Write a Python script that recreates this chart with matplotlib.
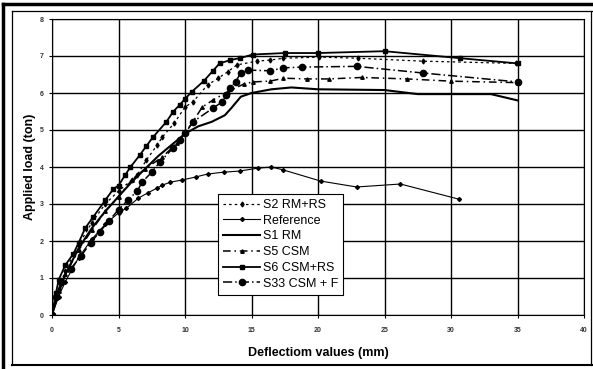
import matplotlib
matplotlib.use('Agg')
import matplotlib.pyplot as plt
from matplotlib.lines import Line2D

# load-deflection data
s2_x = [0, 0.5, 1, 2, 3, 4, 5, 6, 6.4, 7.1, 7.9, 8.3, 9.2, 10, 10.6, 11.7, 12.5, 13.2, 13.9, 15.4, 16.4, 17.4, 20.1, 23, 27.9, 34.9]
s2_y = [0, 0.7, 1.2, 1.9, 2.5, 3.0, 3.35, 3.65, 3.78, 4.19, 4.59, 4.81, 5.19, 5.62, 5.76, 6.22, 6.4, 6.57, 6.76, 6.86, 6.89, 6.94, 6.97, 6.94, 6.86, 6.8]

ref_x = [0, 0.5, 1, 2, 3, 4, 5, 5.6, 6.5, 7.2, 7.9, 8.3, 8.9, 9.8, 10.8, 11.7, 12.9, 14.1, 15.5, 16.5, 17.4, 20.2, 22.9, 26.2, 30.6]
ref_y = [0, 0.5, 0.9, 1.55, 2.05, 2.45, 2.76, 2.89, 3.16, 3.3, 3.43, 3.51, 3.59, 3.65, 3.73, 3.81, 3.86, 3.89, 3.97, 4.0, 3.92, 3.62, 3.46, 3.54, 3.13]

s1_x = [0, 0.5, 1, 2, 3, 4, 5, 6, 7, 8, 9, 10, 11, 12, 13, 13.5, 14.2, 15, 16.5, 18, 20, 25, 27.5, 33, 35]
s1_y = [0, 0.6, 1.1, 1.8, 2.35, 2.8, 3.2, 3.6, 3.95, 4.3, 4.6, 4.9, 5.1, 5.22, 5.4, 5.6, 5.9, 6.0, 6.1, 6.15, 6.1, 6.08, 5.97, 5.97, 5.8]

s5_x = [0, 0.5, 1, 2, 3, 4, 5, 6, 7, 8.3, 9.4, 10.1, 11.3, 12.1, 13.2, 14.4, 15.1, 16.4, 17.4, 19.2, 20.8, 23.3, 26.7, 30, 35]
s5_y = [0, 0.65, 1.1, 1.75, 2.3, 2.8, 3.2, 3.65, 3.95, 4.27, 4.65, 4.95, 5.62, 5.81, 6.03, 6.24, 6.3, 6.32, 6.4, 6.38, 6.38, 6.42, 6.38, 6.32, 6.28]

s6_x = [0, 0.3, 0.5, 1.0, 1.6, 2.0, 2.5, 3.1, 4.0, 4.6, 5.0, 5.5, 5.9, 6.6, 7.1, 7.6, 8.6, 9.1, 9.6, 10.0, 10.5, 11.4, 12.1, 12.6, 13.4, 14.1, 15.1, 17.5, 20, 25, 30.7, 35]
s6_y = [0, 0.6, 0.95, 1.35, 1.65, 1.95, 2.35, 2.65, 3.1, 3.4, 3.5, 3.78, 4.0, 4.32, 4.57, 4.81, 5.22, 5.49, 5.68, 5.84, 6.03, 6.32, 6.6, 6.8, 6.89, 6.94, 7.04, 7.08, 7.08, 7.13, 6.94, 6.8]

s33_x = [0, 0.3, 0.7, 1.4, 2.2, 2.9, 3.6, 4.3, 5, 5.7, 6.4, 6.8, 7.5, 8.1, 9.1, 9.6, 10, 10.6, 12.1, 12.8, 13.1, 13.4, 13.8, 14.2, 14.7, 16.4, 17.4, 18.8, 22.9, 27.9, 35]
s33_y = [0, 0.5, 0.9, 1.25, 1.6, 1.95, 2.25, 2.55, 2.85, 3.1, 3.35, 3.6, 3.86, 4.13, 4.51, 4.73, 4.92, 5.22, 5.59, 5.76, 5.95, 6.14, 6.3, 6.55, 6.62, 6.6, 6.68, 6.7, 6.72, 6.54, 6.3]

plt.rcParams['font.family'] = ['Liberation Sans', 'DejaVu Sans']

fig = plt.figure(figsize=(5.93, 3.69), dpi=100)
ax = fig.add_axes([52 / 593, 1 - 315 / 369, 532 / 593, 296 / 369])

ax.plot(s2_x, s2_y, color='black', lw=0.9, ls=(0, (2, 2.5)), marker='d', ms=2.5, label='S2 RM+RS')
ax.plot(ref_x, ref_y, color='black', lw=0.8, marker='D', ms=2, label='Reference')
ax.plot(s1_x, s1_y, color='black', lw=1.5, label='S1 RM')
ax.plot(s5_x, s5_y, color='black', lw=1.1, ls=(0, (5, 2.5, 1, 2.5)), marker='^', ms=2.5, label='S5 CSM')
ax.plot(s6_x, s6_y, color='black', lw=1.3, marker='s', ms=2.6, label='S6 CSM+RS')
ax.plot(s33_x, s33_y, color='black', lw=1.1, ls=(0, (6, 2, 1, 2)), marker='o', ms=4.5, label='S33 CSM + F')

ax.set_xlim(0, 40)
ax.set_ylim(0, 8)
ax.set_xticks(range(0, 41, 5))
ax.set_yticks(range(0, 9))
ax.grid(True, color='black', lw=1)
ax.tick_params(labelsize=5, length=2, width=0.8, colors='black')
ax.tick_params(axis='x', pad=7)
ax.tick_params(axis='y', pad=4)
for lab in ax.get_xticklabels() + ax.get_yticklabels():
    lab.set_fontweight('bold')
    lab.set_color('#333333')
for sp in ax.spines.values():
    sp.set_linewidth(0.8)

ax.set_xlabel('Deflectiom values (mm)', fontsize=9, fontweight='bold', labelpad=9)
ax.set_ylabel('Applied load (ton)', fontsize=9, fontweight='bold', labelpad=3)

leg = ax.legend(loc='upper left', bbox_to_anchor=(0.312, 0.409), fontsize=9,
                frameon=True, fancybox=False, edgecolor='black', framealpha=1,
                handlelength=3.0, handletextpad=0.2, borderpad=0.4,
                labelspacing=0.3, borderaxespad=0)
leg.get_frame().set_linewidth(0.8)

# double outer frame
W, H = 593.0, 369.0
def px_line(x0, y0, x1, y1, lw):
    fig.add_artist(Line2D([x0 / W, x1 / W], [1 - y0 / H, 1 - y1 / H],
                          transform=fig.transFigure, color='black', lw=lw))

px_line(3, 4, 593, 4, 2.5)
px_line(3, 4, 3, 369, 2.5)
px_line(12, 11, 593, 11, 0.9)
px_line(12, 11, 12, 365, 0.9)
px_line(12, 365, 593, 365, 1.5)
px_line(591, 11, 591, 365, 0.9)

fig.savefig('out.png', dpi=100)
